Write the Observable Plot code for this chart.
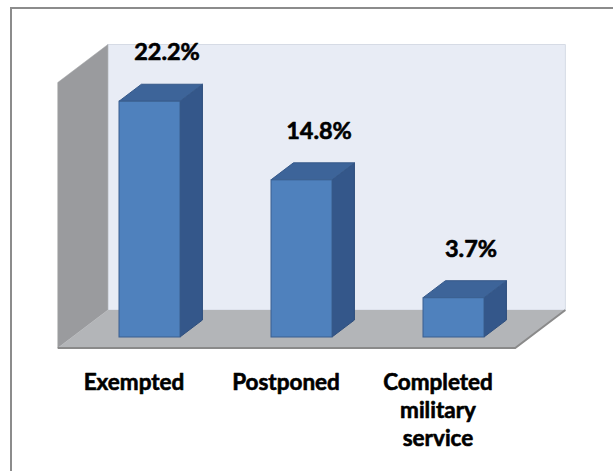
<!DOCTYPE html>
<html>
<head>
<meta charset="utf-8">
<script src="https://cdn.jsdelivr.net/npm/d3@7"></script>
<script src="https://cdn.jsdelivr.net/npm/@observablehq/plot@0.6"></script>
<style>
  html, body { margin: 0; padding: 0; background: #fff; overflow: hidden; }
  #wrap { position: relative; width: 613px; height: 471px; }
  #border { position: absolute; left: 10px; top: 7px; width: 700px; height: 600px; border-left: 2px solid #8c8c8c; border-top: 2px solid #8c8c8c; pointer-events: none; }
  svg { position: absolute; left: 0; top: 0; }
</style>
</head>
<body>
<div id="wrap"><div id="border"></div></div>
<script>
const categories = ["Exempted", "Postponed", "Completed military service"];
const categoryLabels = ["Exempted", "Postponed", "Completed\nmilitary\nservice"];
const values = [22.2, 14.8, 3.7];
const valueLabels = ["22.2%", "14.8%", "3.7%"];
const yDomain = [0, 25];

const data = categories.map((c, i) => ({
  category: c,
  label: categoryLabels[i],
  value: values[i],
  valueLabel: valueLabels[i]
}));

// oblique projection: depth z measured from the floor's front edge (px)
const K = 1.32, Z_BAR_FRONT = 11, Z_BAR_BACK = 28, Z_WALL = 38;
function proj(X, Y, z) { return [X + (z - Z_BAR_FRONT) * K, Y - (z - Z_BAR_FRONT)]; }
function poly(g, pts, fill, stroke, sw) {
  g.append("polygon")
    .attr("points", pts.map(p => p.join(",")).join(" "))
    .attr("fill", fill)
    .attr("stroke", stroke || "none")
    .attr("stroke-width", sw || 0)
    .attr("stroke-linejoin", "round");
}

function wallsMark(index, scales) {
  const x = scales.x, y = scales.y;
  const [x0, x1] = x.range();
  const Y0 = y(yDomain[0]), Yt = y(yDomain[1]);
  const g = d3.create("svg:g");
  poly(g, [proj(x0, Yt, Z_WALL), proj(x1, Yt, Z_WALL), proj(x1, Y0, Z_WALL), proj(x0, Y0, Z_WALL)], "#e8ecf5", "#d6dbe5", 1);
  poly(g, [proj(x0, Yt, 0), proj(x0, Yt, Z_WALL), proj(x0, Y0, Z_WALL), proj(x0, Y0, 0)], "#9a9b9e", "#a3a4a7", 0.5);
  poly(g, [proj(x0, Y0, 0), proj(x0, Y0, Z_WALL), proj(x1, Y0, Z_WALL), proj(x1, Y0, 0)], "#b3b5b8");
  const e = [proj(x0, Y0, 0), proj(x1, Y0, 0), proj(x1, Y0, Z_WALL)];
  g.append("polyline").attr("points", e.map(p => p.join(",")).join(" "))
    .attr("fill", "none").attr("stroke", "#8a8a8a").attr("stroke-width", 2);
  return g.node();
}

function barSidesMark(index, scales) {
  const x = scales.x, y = scales.y;
  const bw = x.bandwidth();
  const g = d3.create("svg:g");
  for (const d of data) {
    const X1 = x(d.category), X2 = X1 + bw;
    const Yv = y(d.value), Y0 = y(0);
    poly(g, [proj(X2, Y0, Z_BAR_FRONT), proj(X2, Yv, Z_BAR_FRONT), proj(X2, Yv, Z_BAR_BACK), proj(X2, Y0, Z_BAR_BACK)], "#34578a", "#2f4f7d", 1);
    poly(g, [proj(X1, Yv, Z_BAR_FRONT), proj(X2, Yv, Z_BAR_FRONT), proj(X2, Yv, Z_BAR_BACK), proj(X1, Yv, Z_BAR_BACK)], "#3d6499", "#36598a", 1);
  }
  return g.node();
}

const font = "Lato, 'Open Sans', sans-serif";

const chart = Plot.plot({
  width: 613,
  height: 471,
  marginLeft: 72.25,
  marginRight: 83.25,
  marginTop: 71.5,
  marginBottom: 134,
  style: { background: "transparent", fontFamily: font, overflow: "visible" },
  x: { domain: categories, paddingInner: 0.6, paddingOuter: 0.3, axis: null },
  y: { domain: yDomain, axis: null },
  marks: [
    wallsMark,
    barSidesMark,
    Plot.barY(data, { x: "category", y: "value", fill: "#4f81bd", stroke: "#3a5f8f", strokeWidth: 1 }),
    Plot.text(data, { x: "category", y: "value", text: "valueLabel", dx: 17, dy: -49,
      fontSize: 23.5, fontWeight: "bold", fill: "#000", stroke: "#000", strokeWidth: 0.6 }),
    Plot.text(data, { x: "category", y: () => 0, text: "label", dx: -16, dy: 33, lineAnchor: "top",
      lineHeight: 1.245, fontSize: 22.5, fontWeight: "bold", fill: "#000", stroke: "#000", strokeWidth: 0.6 })
  ]
});
document.getElementById("wrap").insertBefore(chart, document.getElementById("border"));
</script>
</body>
</html>
